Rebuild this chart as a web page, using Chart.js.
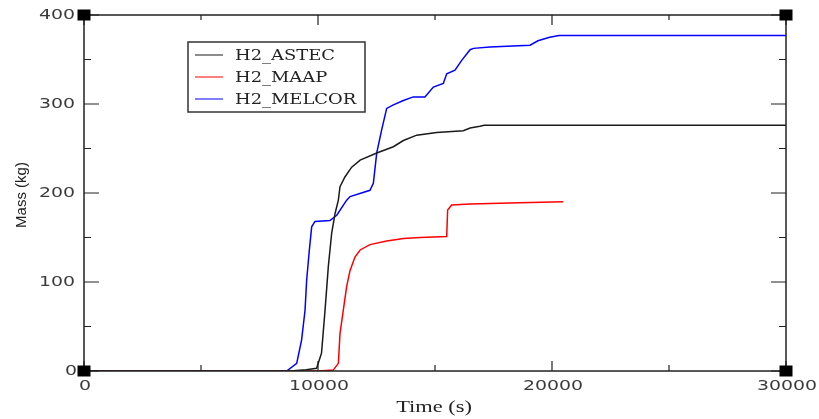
<!DOCTYPE html>
<html lang="en">
<head>
    <meta charset="UTF-8">
    <title>H2 mass</title>
    <script src="https://cdn.jsdelivr.net/npm/chart.js"></script>
    <style>
        body {
            margin: 0;
            background-color: #ffffff;
        }
        #massCanvas {
            display: block;
        }
    </style>
</head>
<body>
    <canvas id="massCanvas" width="819" height="419"></canvas>

    <script>
        // data (time in s, mass in kg)
        let astecTime = [0, 8800, 9500, 9940, 10010, 10150, 10300, 10440, 10585, 10730, 10870, 10940, 11150, 11440, 11800, 12510, 13220, 13650, 14220, 15070, 16210, 16500, 16920, 17100, 30000];
        let astecMass = [0, 0, 1.5, 3, 8.6, 20, 68, 117, 155, 177, 192, 207, 218, 229, 237, 245, 252, 259, 265, 268, 270, 273, 275, 276, 276];

        let maapTime = [0, 10010, 10650, 10870, 10940, 11080, 11225, 11370, 11580, 11800, 12220, 12935, 13650, 14360, 15500, 15540, 15710, 16500, 18630, 20480];
        let maapMass = [0, 0, 1, 8.6, 42, 68, 95, 113, 128, 136, 142, 146, 149, 150, 151, 181, 186.5, 187.6, 189, 190.2];

        let melcorTime = [0, 8660, 9090, 9300, 9445, 9515, 9630, 9730, 9870, 10510, 10800, 11225, 11370, 12220, 12365, 12510, 12720, 12935, 13220, 13650, 14070, 14570, 14930, 15355, 15500, 15855, 16140, 16500, 16640, 17350, 19060, 19400, 19900, 20300, 30000];
        let melcorMass = [0, 0, 8.6, 35, 68, 102, 136, 162, 168, 169, 175, 192, 196, 203, 211, 245, 271, 295, 299, 304, 308, 308, 319, 323, 334, 338, 349, 361, 362.5, 364, 366, 371, 375, 377, 377];

        let seriesNames = ["H2_ASTEC", "H2_MAAP", "H2_MELCOR"];
        let seriesColors = ["#1a1a1a", "#ff0000", "#0000ff"];

        let xTicks = [0, 10000, 20000, 30000];
        let xMinorTicks = [5000, 15000, 25000];
        let yTicks = [0, 100, 200, 300, 400];
        let yMinorTicks = [50, 150, 250, 350];

        function toPoints(times, masses) {
            return times.map((t, i) => ({ x: t, y: masses[i] }));
        }

        // the original fonts are wide, so stretch the text sideways
        function wideText(ctx, text, x, y, sx) {
            ctx.save();
            ctx.translate(x, y);
            ctx.scale(sx, 1);
            ctx.fillText(text, 0, 0);
            ctx.restore();
        }

        // frame, inward ticks, corner squares, labels and legend
        let framePlugin = {
            id: 'frame',
            afterDraw(chart) {
                let ctx = chart.ctx;
                let area = chart.chartArea;
                let xs = chart.scales.x;
                let ys = chart.scales.y;
                ctx.save();

                ctx.strokeStyle = "#222";
                ctx.lineWidth = 1.5;
                ctx.strokeRect(area.left, area.top, area.right - area.left, area.bottom - area.top);

                ctx.lineWidth = 1.2;
                ctx.beginPath();
                xTicks.forEach(v => {
                    let px = xs.getPixelForValue(v);
                    ctx.moveTo(px, area.bottom); ctx.lineTo(px, area.bottom - 10);
                    ctx.moveTo(px, area.top); ctx.lineTo(px, area.top + 10);
                });
                xMinorTicks.forEach(v => {
                    let px = xs.getPixelForValue(v);
                    ctx.moveTo(px, area.bottom); ctx.lineTo(px, area.bottom - 6);
                    ctx.moveTo(px, area.top); ctx.lineTo(px, area.top + 5);
                });
                yTicks.forEach(v => {
                    let py = ys.getPixelForValue(v);
                    ctx.moveTo(area.left, py); ctx.lineTo(area.left + 15, py);
                    ctx.moveTo(area.right, py); ctx.lineTo(area.right - 15, py);
                });
                yMinorTicks.forEach(v => {
                    let py = ys.getPixelForValue(v);
                    ctx.moveTo(area.left, py); ctx.lineTo(area.left + 7, py);
                    ctx.moveTo(area.right, py); ctx.lineTo(area.right - 7, py);
                });
                ctx.stroke();

                // corner squares
                ctx.fillStyle = "#000";
                [[area.left, area.top], [area.right, area.top], [area.left, area.bottom], [area.right, area.bottom]].forEach(c => {
                    ctx.fillRect(c[0] - 6.5, c[1] - 5.5, 13, 11);
                });

                // tick labels
                ctx.fillStyle = "#3a3a3a";
                ctx.font = "14px 'DejaVu Sans'";
                ctx.textBaseline = "middle";
                ctx.textAlign = "center";
                xTicks.forEach(v => {
                    let px = xs.getPixelForValue(v);
                    wideText(ctx, String(v), px + 1, 386, 1.35);
                });
                ctx.textAlign = "right";
                yTicks.forEach(v => {
                    let py = ys.getPixelForValue(v);
                    wideText(ctx, String(v), v === 0 ? area.left - 7 : area.left - 9, py, 1.35);
                });

                // axis titles
                ctx.fillStyle = "#222";
                ctx.textAlign = "center";
                ctx.font = "16px 'Liberation Serif'";
                wideText(ctx, "Time (s)", 434, 408, 1.4);

                ctx.save();
                ctx.translate(22, 195);
                ctx.rotate(-Math.PI / 2);
                ctx.font = "15px 'Liberation Sans'";
                ctx.fillText("Mass (kg)", 0, 0);
                ctx.restore();

                // legend
                ctx.strokeStyle = "#333";
                ctx.lineWidth = 1.5;
                ctx.strokeRect(188, 42, 177, 70);
                ctx.font = "14px 'DejaVu Serif'";
                ctx.textAlign = "left";
                seriesNames.forEach((name, i) => {
                    let y = 55 + i * 22;
                    ctx.strokeStyle = seriesColors[i];
                    ctx.lineWidth = 1;
                    ctx.beginPath();
                    ctx.moveTo(195, y); ctx.lineTo(223, y);
                    ctx.stroke();
                    ctx.fillStyle = "#222";
                    wideText(ctx, name, 235, y + 1, 1.28);
                });

                ctx.restore();
            }
        };

        let massChart = new Chart(document.getElementById("massCanvas"), {
            type: 'line',
            data: {
                datasets: [
                    { label: seriesNames[0], data: toPoints(astecTime, astecMass), borderColor: seriesColors[0] },
                    { label: seriesNames[1], data: toPoints(maapTime, maapMass), borderColor: seriesColors[1] },
                    { label: seriesNames[2], data: toPoints(melcorTime, melcorMass), borderColor: seriesColors[2] }
                ]
            },
            options: {
                responsive: false,
                animation: false,
                devicePixelRatio: 1,
                layout: {
                    padding: { left: 84, right: 33, top: 15, bottom: 48 }
                },
                elements: {
                    point: { radius: 0 },
                    line: { borderWidth: 1.5, tension: 0 }
                },
                scales: {
                    x: { type: 'linear', min: 0, max: 30000, display: false },
                    y: { min: 0, max: 400, display: false }
                },
                plugins: {
                    legend: { display: false },
                    tooltip: { enabled: false }
                }
            },
            plugins: [framePlugin]
        });
    </script>
</body>
</html>
